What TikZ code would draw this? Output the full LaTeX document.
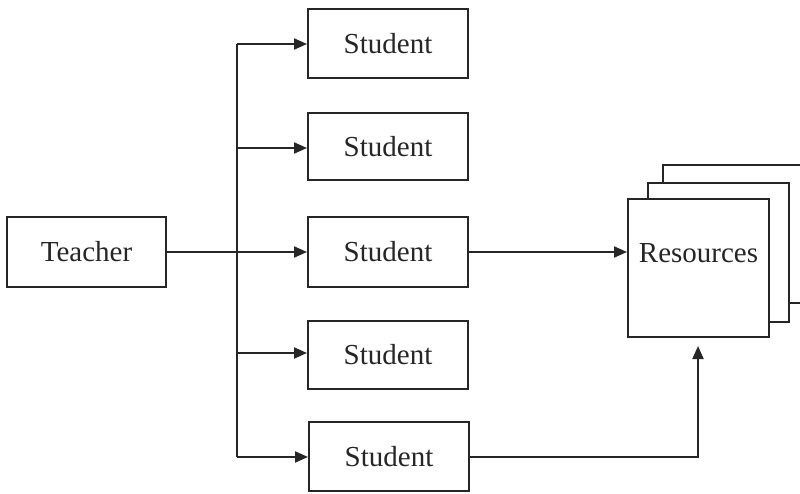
\documentclass[tikz,border=0pt]{standalone}
\usepackage{fontspec}
\setmainfont{Liberation Serif}
\usetikzlibrary{arrows.meta}
\begin{document}
\begin{tikzpicture}[x=1pt,y=-1pt,
  boxstyle/.style={draw=black!85,line width=2pt,fill=white,inner sep=0pt,font=\fontsize{29}{34}\selectfont,text=black!85},
  stud/.style={boxstyle,minimum width=160pt,minimum height=69pt},
  conn/.style={draw=black!85,line width=2pt},
  arr/.style={conn,-{Triangle[length=13pt,width=11pt]}}]
\useasboundingbox (0,0) rectangle (800,494);
\node[stud,minimum width=159pt,minimum height=70pt] (teacher) at (86.5,252) {Teacher};
\node[stud] (s1) at (388,43.5) {Student};
\node[stud,minimum height=67pt] (s2) at (388,147) {Student};
\node[stud,minimum height=70pt] (s3) at (388,252) {Student};
\node[stud,minimum height=68pt] (s4) at (388,355) {Student};
\node[stud] (s5) at (389,456.5) {Student};
% resource stack
\node[boxstyle,minimum width=141pt,minimum height=138pt] (r3) at (733.5,234) {};
\node[boxstyle,minimum width=141pt,minimum height=139pt] (r2) at (718.5,252.5) {};
\node[boxstyle,minimum width=141pt,minimum height=138pt] (res) at (698.5,268) {\raisebox{30pt}{Resources}};
% bus
\coordinate (top) at (237,44);
\coordinate (bot) at (237,457);
\coordinate (corner) at (698,457);
\draw[conn] (top) -- (bot);
\draw[arr] (top) -- (s1.west |- top);
\draw[arr] (237,148) -- (s2.west |- 0,148);
\draw[arr] (teacher.east |- 0,252) -- (s3.west |- 0,252);
\draw[arr] (237,353) -- (s4.west |- 0,353);
\draw[arr] (bot) -- (s5.west |- bot);
\draw[arr] (s3.east |- 0,252) -- (res.west |- 0,252);
\draw[arr,shorten >=8pt] (s5.east |- corner) -- (corner) -- (res.south -| corner);
\end{tikzpicture}
\end{document}
